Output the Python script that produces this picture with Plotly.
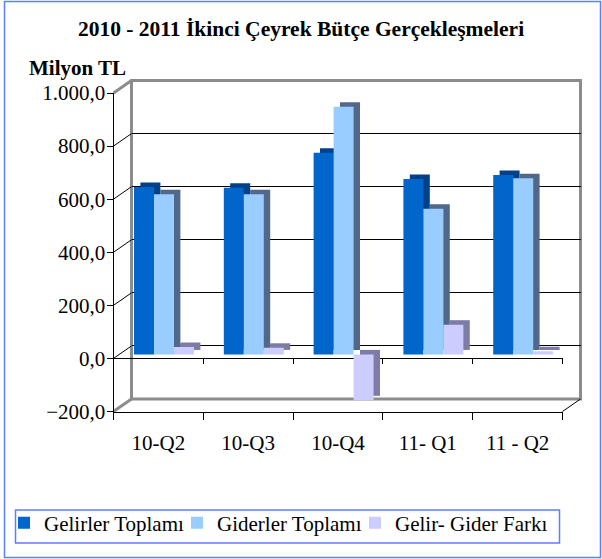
import plotly.graph_objects as go

# ---------------- data ----------------
CATEGORIES = ["10-Q2", "10-Q3", "10-Q4", "11- Q1", "11 - Q2"]
GELIRLER = [631, 628, 760, 661, 676]
GIDERLER = [603, 603, 933, 549, 664]
FARK = [28, 25, -173, 112, 12]
SERIES_NAMES = ["Gelirler Toplamı", "Giderler Toplamı", "Gelir- Gider Farkı"]
Y_TICKS = [-200, 0, 200, 400, 600, 800, 1000]
TITLE = "2010 - 2011 İkinci Çeyrek Bütçe Gerçekleşmeleri"
Y_TITLE = "Milyon TL"

# ---------------- styling / geometry ----------------
W, H = 602, 559
FONT = "Liberation Serif"
FS = 21
FRONT_COLORS = ["#0066CC", "#99CCFF", "#CCCCFF"]
SHADE_COLORS = ["#00418A", "#52688A", "#7C7CA6"]
BORDER_BLUE = "#5B7FFF"
WALL_GRAY = "#8C8C8C"
LEGEND_X_PX = [4, 177, 355]
LEGEND_IDS = ["legend", "legend2", "legend3"]

FX0, FX1 = 113.5, 562.5      # front x extent (px)
FY_BOT, FY_TOP = 411.5, 93.0  # front y of -200 and 1000 (px)
YMIN, YMAX = Y_TICKS[0], Y_TICKS[-1]
SCALE = (FY_BOT - FY_TOP) / (YMAX - YMIN)
DX, DY = 18.0, -12.5          # depth offset of back wall
BAR_OFF = (5.6, -4.0)         # front faces of bars
SHADE_OFF = (12.0, -8.5)      # back faces of bars


def px_x(p):
    return p / W


def px_y(p):
    return 1 - p / H


def yfront(v):
    return FY_BOT - (v - YMIN) * SCALE


def dom(dx, dy):
    return dict(domain=[px_x(FX0 + dx), px_x(FX1 + dx)]), dict(domain=[px_y(FY_BOT + dy), px_y(FY_TOP + dy)])


fig = go.Figure()
series = [GELIRLER, GIDERLER, FARK]

# invisible carrier traces so the axis-only subplots get drawn
for xa, ya in (("x", "y"), ("x2", "y2"), ("x3", "y3")):
    fig.add_trace(go.Bar(x=CATEGORIES, y=GELIRLER, marker=dict(color="rgba(0,0,0,0)", line=dict(width=0)),
                         xaxis=xa, yaxis=ya, showlegend=False, hoverinfo="skip"))

# shaded depth bars (drawn first, under the front faces)
for vals, col in zip(series, SHADE_COLORS):
    fig.add_trace(go.Bar(x=CATEGORIES, y=vals, marker=dict(color=col, line=dict(width=0)),
                         xaxis="x4", yaxis="y4", showlegend=False, hoverinfo="skip"))
# front faces
for vals, col, name, lg in zip(series, FRONT_COLORS, SERIES_NAMES, LEGEND_IDS):
    fig.add_trace(go.Bar(x=CATEGORIES, y=vals, name=name, marker=dict(color=col, line=dict(width=0)),
                         xaxis="x5", yaxis="y5", legend=lg, showlegend=True))

hidden_x = dict(type="category", range=[-0.5, len(CATEGORIES) - 0.5], visible=False)
hidden_y = dict(range=[YMIN, YMAX], visible=False)

fx_main, fy_main = dom(0, 0)
bx, by = dom(DX, DY)
sx, sy = dom(*SHADE_OFF)
rx, ry = dom(*BAR_OFF)

legends = {}
for lg, lx in zip(LEGEND_IDS, LEGEND_X_PX):
    legends[lg] = dict(orientation="h", x=px_x(lx), y=px_y(523), xanchor="left", yanchor="middle",
                       borderwidth=0, bgcolor="rgba(0,0,0,0)",
                       font=dict(family=FONT, size=FS, color="black"))

layout = dict(
    width=W, height=H,
    margin=dict(l=0, r=0, t=0, b=0, autoexpand=False),
    paper_bgcolor="white", plot_bgcolor="rgba(0,0,0,0)",
    separators=",.",
    barmode="group", bargap=0.332, bargroupgap=0,
    font=dict(family=FONT, size=FS, color="black"),
    title=dict(text="<b>" + TITLE + "</b>", x=0.5, xanchor="center", y=px_y(28), yanchor="middle",
               font=dict(family=FONT, size=21.5, color="black")),
    showlegend=True,
    **legends,
    # front axes: category labels at -200 and value axis
    xaxis=dict(**fx_main, anchor="y", type="category", categoryorder="array", categoryarray=CATEGORIES,
               range=[-0.5, len(CATEGORIES) - 0.5], showline=True, linecolor="black", linewidth=1,
               ticks="outside", tickson="boundaries", ticklen=7, tickcolor="black",
               showgrid=False, zeroline=False, ticklabelstandoff=12,
               tickfont=dict(family=FONT, size=FS)),
    yaxis=dict(**fy_main, anchor="x", range=[YMIN, YMAX], tickvals=Y_TICKS, tickformat=",.1f",
               showline=True, linecolor="black", linewidth=1, ticks="outside", ticklen=6,
               tickcolor="black", showgrid=False, zeroline=False, ticklabelstandoff=-3,
               tickfont=dict(family=FONT, size=FS)),
    # back wall gridlines
    xaxis2=dict(**bx, anchor="y2", **hidden_x),
    yaxis2=dict(**by, anchor="x2", range=[YMIN, YMAX], tickvals=Y_TICKS[1:-1], showgrid=True,
                gridcolor="black", gridwidth=1, showticklabels=False, ticks="", showline=False,
                zeroline=False),
    # front zero line with category ticks
    xaxis3=dict(domain=fx_main["domain"], anchor="y3", type="category", range=[-0.5, len(CATEGORIES) - 0.5],
                showline=True, linecolor="black", linewidth=1, ticks="outside", tickson="boundaries",
                ticklen=5, tickcolor="black", showticklabels=False, showgrid=False, zeroline=False,
                layer="below traces"),
    yaxis3=dict(domain=[px_y(yfront(0)), fy_main["domain"][1]], anchor="x3",
                range=[0, YMAX], visible=False),
    xaxis4=dict(**sx, anchor="y4", **hidden_x),
    yaxis4=dict(**sy, anchor="x4", **hidden_y),
    xaxis5=dict(**rx, anchor="y5", **hidden_x),
    yaxis5=dict(**ry, anchor="x5", **hidden_y),
)
fig.update_layout(**layout)

shapes = []
# back wall frame
shapes.append(dict(type="rect", xref="paper", yref="paper", layer="below",
                   x0=px_x(FX0 + DX), x1=px_x(FX1 + DX),
                   y0=px_y(yfront(YMIN) + DY), y1=px_y(yfront(YMAX) + DY),
                   line=dict(color=WALL_GRAY, width=3)))
# side wall diagonals
for v in Y_TICKS:
    edge = v in (YMIN, YMAX)
    shapes.append(dict(type="line", xref="paper", yref="paper", layer="below",
                       x0=px_x(FX0), y0=px_y(yfront(v)), x1=px_x(FX0 + DX), y1=px_y(yfront(v) + DY),
                       line=dict(color=WALL_GRAY if edge else "black", width=3 if edge else 1)))
# floor right diagonal
shapes.append(dict(type="line", xref="paper", yref="paper", layer="below",
                   x0=px_x(FX1), y0=px_y(yfront(YMIN)), x1=px_x(FX1 + DX), y1=px_y(yfront(YMIN) + DY),
                   line=dict(color="black", width=1)))
# legend frame
shapes.append(dict(type="rect", xref="paper", yref="paper", layer="below",
                   x0=px_x(15.5), x1=px_x(559.5), y0=px_y(543), y1=px_y(510),
                   line=dict(color=BORDER_BLUE, width=1.5)))
# outer chart border
shapes.append(dict(type="rect", xref="paper", yref="paper", layer="above",
                   x0=px_x(4.5), x1=px_x(600.5), y0=px_y(557.5), y1=px_y(1.5),
                   line=dict(color=BORDER_BLUE, width=1.5)))
fig.update_layout(shapes=shapes)

fig.add_annotation(text="<b>" + Y_TITLE + "</b>", xref="paper", yref="paper",
                   x=px_x(27), y=px_y(68), xanchor="left", yanchor="middle", showarrow=False,
                   font=dict(family=FONT, size=FS, color="black"))

fig.write_html("out.html", config={"displayModeBar": False},
               post_script="document.body.style.margin='0';")
